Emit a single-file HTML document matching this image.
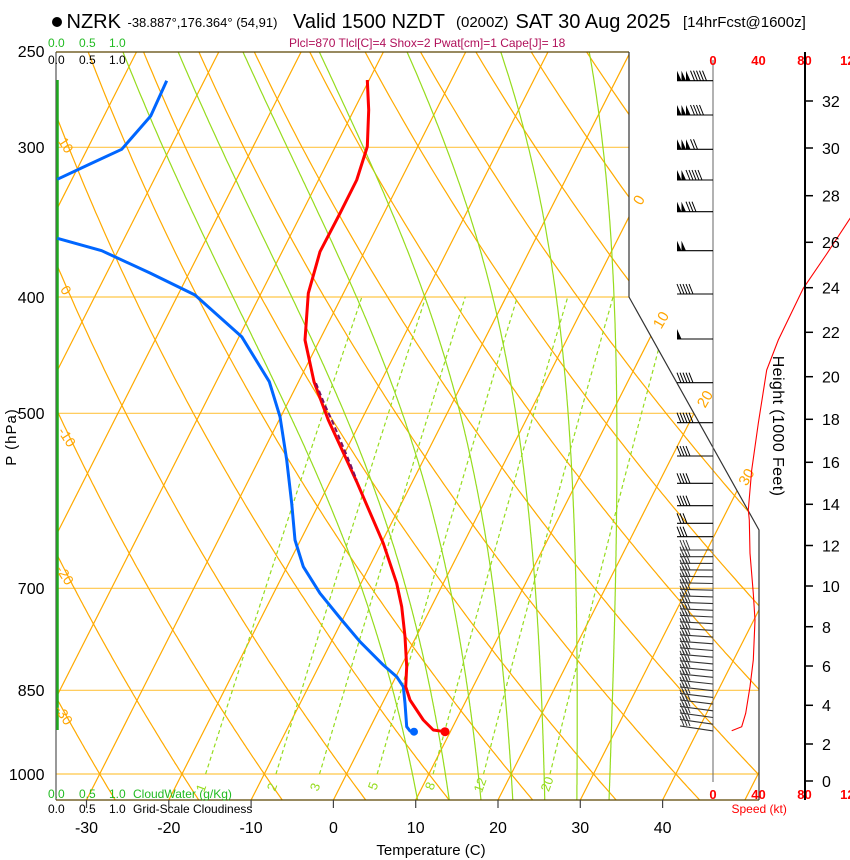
<!DOCTYPE html>
<html><head><meta charset="utf-8"><style>
html,body{margin:0;padding:0;background:#fff;}
svg{display:block;font-family:"Liberation Sans",Arial,sans-serif;}
</style></head><body>
<svg id="s" width="850" height="860" viewBox="0 0 850 860" xmlns="http://www.w3.org/2000/svg">
<rect width="850" height="860" fill="#fff"/>
<defs><clipPath id="cp"><polygon points="56,52 629,52 629,297 759,530 759,800 56,800"/></clipPath></defs>
<g clip-path="url(#cp)" stroke="#ffc648" stroke-width="1.2">
<line x1="56" y1="147.3" x2="760" y2="147.3"/>
<line x1="56" y1="297" x2="760" y2="297"/>
<line x1="56" y1="413.3" x2="760" y2="413.3"/>
<line x1="56" y1="588.3" x2="760" y2="588.3"/>
<line x1="56" y1="690.3" x2="760" y2="690.3"/>
<line x1="56" y1="774" x2="760" y2="774"/>
</g>
<g id="grid" clip-path="url(#cp)"></g>

<!-- borders -->
<line x1="56" y1="52" x2="56" y2="800" stroke="#555" stroke-width="1.2"/>
<line x1="56" y1="52" x2="629" y2="52" stroke="#5a4500" stroke-width="1.3"/>
<line x1="56" y1="800" x2="759" y2="800" stroke="#5a4500" stroke-width="1.3"/>
<polyline points="629,52 629,297 759,530 759,800" fill="none" stroke="#333" stroke-width="1.2"/>
<line x1="57.5" y1="80" x2="57.5" y2="730" stroke="#1faa1f" stroke-width="2.5"/>

<!-- x ticks -->
<g stroke="#444" stroke-width="1.2">
<line x1="86.5" y1="800" x2="86.5" y2="808"/><line x1="168.8" y1="800" x2="168.8" y2="808"/>
<line x1="251.1" y1="800" x2="251.1" y2="808"/><line x1="333.4" y1="800" x2="333.4" y2="808"/>
<line x1="415.7" y1="800" x2="415.7" y2="808"/><line x1="498" y1="800" x2="498" y2="808"/>
<line x1="580.3" y1="800" x2="580.3" y2="808"/><line x1="662.6" y1="800" x2="662.6" y2="808"/>
</g>
<g font-size="16" fill="#000" text-anchor="middle">
<text x="86.5" y="833">-30</text><text x="168.8" y="833">-20</text><text x="251.1" y="833">-10</text>
<text x="333.4" y="833">0</text><text x="415.7" y="833">10</text><text x="498" y="833">20</text>
<text x="580.3" y="833">30</text><text x="662.6" y="833">40</text>
</g>
<text x="431" y="855" font-size="15" text-anchor="middle">Temperature (C)</text>

<!-- pressure labels -->
<g font-size="16" fill="#000" text-anchor="end">
<text x="44.5" y="57">250</text><text x="44.5" y="153">300</text><text x="44.5" y="303">400</text>
<text x="44.5" y="419">500</text><text x="44.5" y="594">700</text><text x="44.5" y="696">850</text>
<text x="44.5" y="780">1000</text>
</g>
<text transform="translate(16,437) rotate(-90)" font-size="15" text-anchor="middle" letter-spacing="1">P (hPa)</text>

<!-- cloud scales -->
<g font-size="12" fill="#22bb22">
<text x="48" y="47">0.0</text><text x="79" y="47">0.5</text><text x="109" y="47">1.0</text>
<text x="48" y="798">0.0</text><text x="79" y="798">0.5</text><text x="109" y="798">1.0</text>
<text x="133" y="798">CloudWater (g/Kg)</text>
</g>
<g font-size="12" fill="#000">
<text x="48" y="64">0.0</text><text x="79" y="64">0.5</text><text x="109" y="64">1.0</text>
<text x="48" y="813">0.0</text><text x="79" y="813">0.5</text><text x="109" y="813">1.0</text>
<text x="133" y="813">Grid-Scale Cloudiness</text>
</g>

<!-- title -->
<circle cx="57" cy="22" r="5" fill="#000"/>
<text x="66.5" y="28" font-size="20">NZRK</text>
<text x="127.5" y="27" font-size="13">-38.887°,176.364° (54,91)</text>
<text x="293" y="28" font-size="20">Valid 1500 NZDT</text>
<text x="456" y="27" font-size="15">(0200Z)</text>
<text x="515.5" y="28" font-size="20">SAT 30 Aug 2025</text>
<text x="683" y="27" font-size="15">[14hrFcst@1600z]</text>
<text x="289" y="47" font-size="12" fill="#b0105a">Plcl=870 Tlcl[C]=4 Shox=2 Pwat[cm]=1 Cape[J]= 18</text>

<!-- orange labels -->
<g font-size="14" fill="#ffa500" text-anchor="middle">
<text transform="translate(66,145) rotate(57)" y="5">10</text>
<text transform="translate(66,290) rotate(57)" y="5">0</text>
<text transform="translate(67,437) rotate(57)" y="5">-10</text>
<text transform="translate(65,575) rotate(57)" y="5">-20</text>
<text transform="translate(64,715) rotate(57)" y="5">-30</text>
</g>
<g font-size="15" fill="#ffa500" text-anchor="middle">
<text transform="translate(639,200) rotate(-60)" y="5">0</text>
<text transform="translate(661,320) rotate(-60)" y="5">10</text>
<text transform="translate(705,399) rotate(-60)" y="5">20</text>
<text transform="translate(746.5,477) rotate(-60)" y="5">30</text>
</g>
<g font-size="13" fill="#96dc1e" text-anchor="middle">
<text transform="translate(201,788) rotate(-70)" y="4.5">1</text>
<text transform="translate(272,787) rotate(-70)" y="4.5">2</text>
<text transform="translate(315,787) rotate(-70)" y="4.5">3</text>
<text transform="translate(373,786) rotate(-70)" y="4.5">5</text>
<text transform="translate(430,786) rotate(-70)" y="4.5">8</text>
<text transform="translate(480,785) rotate(-70)" y="4.5">12</text>
<text transform="translate(547,784) rotate(-70)" y="4.5">20</text>
</g>

<!-- profiles -->
<polyline fill="none" stroke="#0066ff" stroke-width="3" stroke-linejoin="round" points="166.7,80.7 150.7,116 121.7,149.3 90,164 57.3,179.3"/>
<polyline fill="none" stroke="#0066ff" stroke-width="3" stroke-linejoin="round" points="57.3,238.3 101.7,250.7 150,273 195,295 241.7,336.7 269.3,381.7 280,416.7 286.7,460 291.7,503.3 295,540 303.3,566.7 320,593.3 341.7,620 360,641.7 383.3,665 396.7,676.7 403.3,686.7 405,703.3 406.7,726.7 410,731 414,731.7"/>
<polyline fill="none" stroke="#ff0000" stroke-width="3" stroke-linejoin="round" points="367.3,80 368.7,110 367.3,146.7 356.7,180 340,213.3 320,251.7 308.3,293.3 305,340 314,381.7 328.3,420 336.7,438.3 356.7,481.7 383.3,543.3 396.7,583.3 401.7,606.7 405,636.7 406.7,666.7 405.7,686.7 410,700 423.3,720 433.3,730 445,731.7"/>
<polyline fill="none" stroke="#7a1060" stroke-width="2" stroke-dasharray="5,3" points="316,383.3 324,403 331.7,420 339,437 347,456 356.7,480"/>
<circle cx="414" cy="731.7" r="4" fill="#0066ff"/>
<circle cx="445" cy="731.7" r="4.5" fill="#ff0000"/>

<!-- speed / height panel -->
<line x1="713" y1="60" x2="713" y2="782" stroke="#666" stroke-width="1"/>
<g id="barbs"></g>
<polyline fill="none" stroke="#ff0000" stroke-width="1.1" points="851,217 826,255 803.3,288.3 778.3,340 766.7,370 758.3,423.3 751.7,470 748.3,510 749.3,520 750,553.3 753.3,593.3 755,620 753.3,660 750,686.7 745.7,713.3 741.7,726.7 731.7,730.7"/>
<g font-size="13" font-weight="bold" fill="#ff0000" text-anchor="middle">
<text x="713" y="65">0</text><text x="758.5" y="65">40</text><text x="804.5" y="65">80</text><text x="851" y="65">120</text>
<text x="713" y="799">0</text><text x="758.5" y="799">40</text><text x="804.5" y="799">80</text><text x="851" y="799">120</text>
</g>
<text x="731.5" y="813" font-size="12" fill="#ff0000">Speed (kt)</text>
<line x1="805" y1="52" x2="805" y2="800" stroke="#000" stroke-width="2"/>
<g stroke="#000" stroke-width="1.5">
<line x1="805" y1="781" x2="813" y2="781"/><line x1="805" y1="744" x2="813" y2="744"/>
<line x1="805" y1="705.3" x2="813" y2="705.3"/><line x1="805" y1="666" x2="813" y2="666"/>
<line x1="805" y1="626.7" x2="813" y2="626.7"/><line x1="805" y1="586" x2="813" y2="586"/>
<line x1="805" y1="545.5" x2="813" y2="545.5"/><line x1="805" y1="504.3" x2="813" y2="504.3"/>
<line x1="805" y1="462.3" x2="813" y2="462.3"/><line x1="805" y1="419.3" x2="813" y2="419.3"/>
<line x1="805" y1="376.7" x2="813" y2="376.7"/><line x1="805" y1="332.3" x2="813" y2="332.3"/>
<line x1="805" y1="287.7" x2="813" y2="287.7"/><line x1="805" y1="242.3" x2="813" y2="242.3"/>
<line x1="805" y1="195.7" x2="813" y2="195.7"/><line x1="805" y1="148" x2="813" y2="148"/>
<line x1="805" y1="101" x2="813" y2="101"/>
</g>
<g font-size="16" fill="#000">
<text x="822" y="787">0</text><text x="822" y="750">2</text><text x="822" y="711">4</text>
<text x="822" y="672">6</text><text x="822" y="633">8</text><text x="822" y="592">10</text>
<text x="822" y="551.5">12</text><text x="822" y="510">14</text><text x="822" y="468">16</text>
<text x="822" y="425">18</text><text x="822" y="382.5">20</text><text x="822" y="338">22</text>
<text x="822" y="293.5">24</text><text x="822" y="248">26</text><text x="822" y="201.5">28</text>
<text x="822" y="154">30</text><text x="822" y="107">32</text>
</g>
<text transform="translate(779,426) rotate(90)" font-size="16" text-anchor="middle" y="6" letter-spacing="0.4">Height (1000 Feet)</text>
</svg>
<script>
(function(){
var NS='http://www.w3.org/2000/svg';
var g=document.getElementById('grid');
function Y(p){return 774+520.8*Math.log(p/1000);}
function X(T,p){return 333.4+8.23*T+0.507*(800-Y(p));}
function poly(par,pts,stroke,w,dash){var e=document.createElementNS(NS,'polyline');
 e.setAttribute('points',pts.map(function(q){return q[0].toFixed(1)+','+q[1].toFixed(1);}).join(' '));
 e.setAttribute('fill','none');e.setAttribute('stroke',stroke);e.setAttribute('stroke-width',w);
 if(dash)e.setAttribute('stroke-dasharray',dash);par.appendChild(e);return e;}
var PB=1052,PT=248;
var OR='#ffaa00';
for(var T=-100;T<=60;T+=10){poly(g,[[X(T,PB),Y(PB)],[X(T,PT),Y(PT)]],OR,1.2);}
for(var th=-40;th<=130;th+=10){var pts=[];for(var p=PB;p>=PT;p-=4){var t=(th+273.15)*Math.pow(p/1000,0.2857)-273.15;pts.push([X(t,p),Y(p)]);}poly(g,pts,OR,1.2);}
function es(T){return 6.112*Math.exp(17.67*T/(T+243.5));}
function dTdp(T,p){var Tk=T+273.15,e=es(T),rs=0.622*e/(p-e),Lv=2.501e6,Rd=287.04,Cp=1005.7;
 return (Rd*Tk+Lv*rs)/(Cp+Lv*Lv*rs*0.622/(Rd*Tk*Tk))/p;}
var GR='#96dc1e';
for(var tw=8;tw<=32;tw+=4){
 var dp=2,Td=tw,pd=1000,down=[];
 while(pd<PB){Td+=dTdp(Td,pd)*dp;pd+=dp;down.push([X(Td,pd),Y(pd)]);}
 var pts=down.reverse();var T2=tw,p2=1000;pts.push([X(T2,p2),Y(p2)]);
 while(p2>PT){var k1=dTdp(T2,p2);var Tm=T2-k1*dp/2;var k2=dTdp(Tm,p2-dp/2);T2-=k2*dp;p2-=dp;pts.push([X(T2,p2),Y(p2)]);}
 poly(g,pts,GR,1.2);
}
[1,2,3,5,8,12,20].forEach(function(w){var pts=[];for(var p=1000;p>=400;p-=10){var e=w*p/(622+w);var l=Math.log(e/6.112);var t=243.5*l/(17.67-l);pts.push([X(t,p),Y(p)]);}poly(g,pts,GR,1.2,'4,3');});
// barbs
var b=document.getElementById('barbs');
var bars=[[80.7,3,5],[115,3,4],[149.3,3,2],[180,2,5],[211.7,2,3],[250.7,2,0],[294,0,5],[339,1,0],[382.7,0,5],[422.7,0,5],[456,0,4],[483.3,0,4],[505.7,0,4],[523.3,0,3],[536.7,0,3]];
for(var y=550;y<=731;y+=6.7)bars.push([y,0,3]);
bars.forEach(function(r){var y=r[0],np=r[1],nf=r[2];var lower=y>545;var left=lower?680:677;
 var tilt=y>560?(y-560)/170*5:0;var yl=y-tilt;var col=lower?'#333':'#000';
 poly(b,[[713,y],[left,yl]],col,1.1);
 for(var i=0;i<np;i++){var x0=left+4.5*i;var e=document.createElementNS(NS,'polygon');
  e.setAttribute('points',x0+','+yl+' '+x0+','+(yl-10)+' '+(x0+4.5)+','+yl);e.setAttribute('fill','#000');b.appendChild(e);}
 for(var j=0;j<nf;j++){var xs=left+4.5*np+3*j+4;poly(b,[[xs,yl],[xs-4,yl-10]],col,1);}
});
})();
</script>
</body></html>
